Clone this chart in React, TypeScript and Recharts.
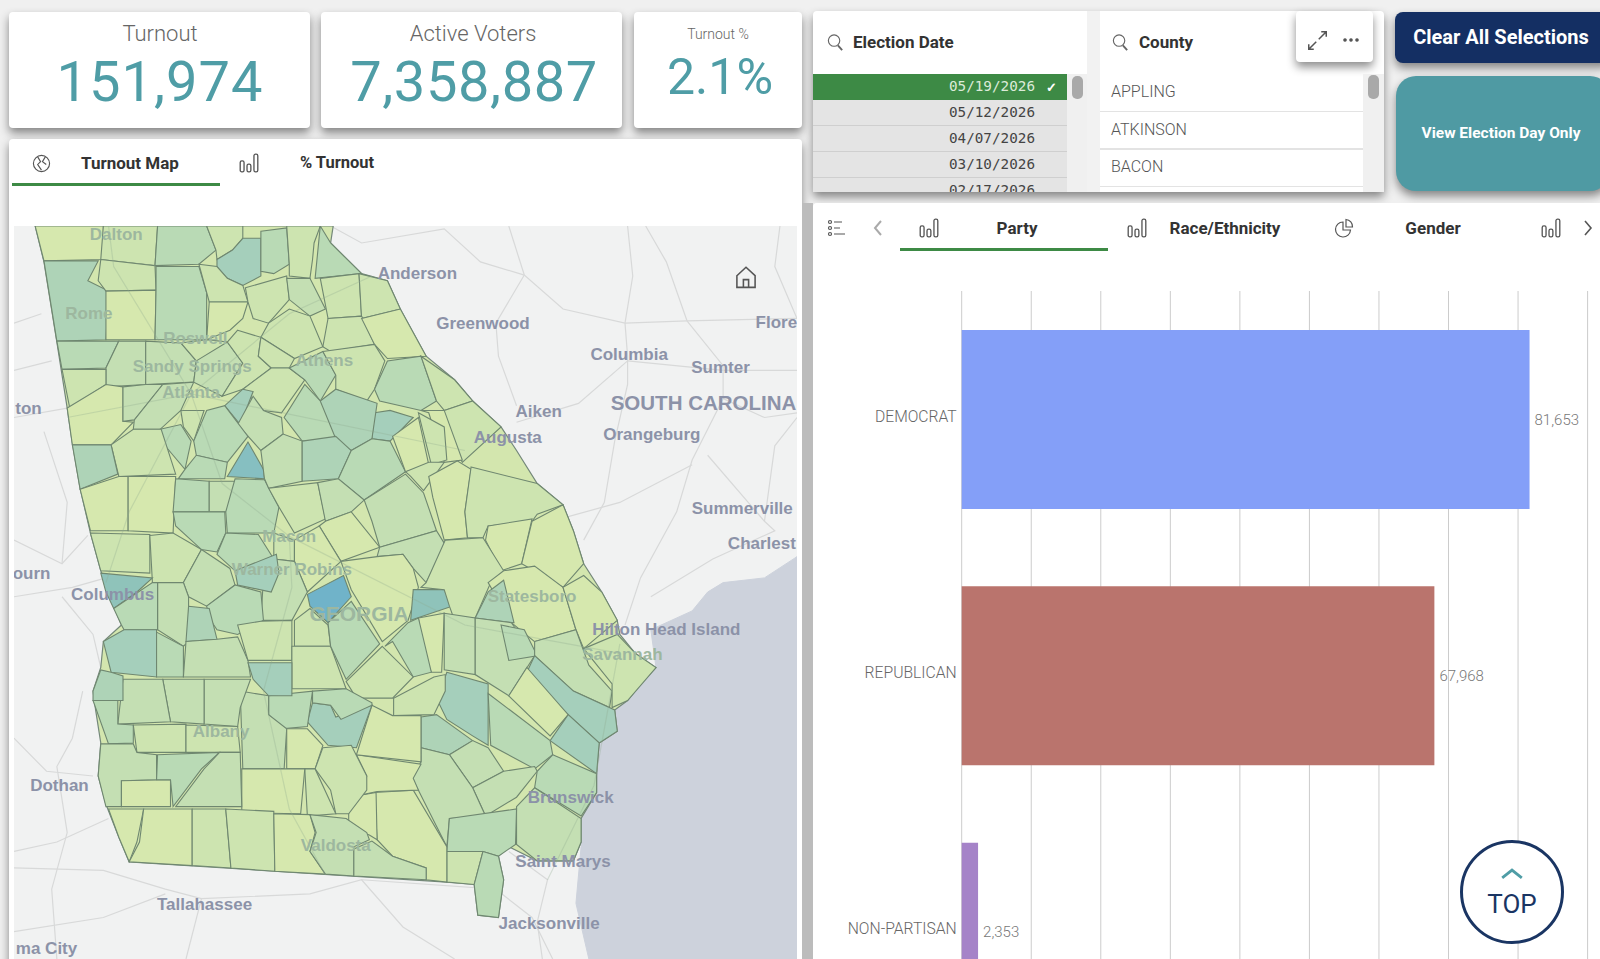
import React from 'react';
import {
  BarChart,
  Bar,
  Cell,
  XAxis,
  YAxis,
  ZAxis,
  CartesianGrid,
  LabelList,
  Scatter,
  ScatterChart,
} from 'recharts';

type Pt = [number, number];

// party bars
const parties = ['DEMOCRAT', 'REPUBLICAN', 'NON-PARTISAN'];
const partyTurnout = [81653, 67968, 2353];
const partyColors = ['#849ff8', '#ba746d', '#a583c8'];
const turnoutTicks = [0, 10000, 20000, 30000, 40000, 50000, 60000, 70000, 80000, 90000];

// lists in the filter panes
const electionDates = ['05/19/2026', '05/12/2026', '04/07/2026', '03/10/2026', '02/17/2026'];
const countyNames = ['APPLING', 'ATKINSON', 'BACON'];

// map, in the map's own x/y units
const ocean: Pt[] = [[1543, 715], [1480, 760], [1400, 770], [1370, 790], [1340, 830], [1260, 870], [1270, 950], [1240, 985], [1215, 1020], [1190, 1040], [1195, 1085], [1160, 1110], [1155, 1215], [1125, 1270], [1125, 1330], [1115, 1450], [1140, 1568], [1543, 1568]];
const stateOutline: Pt[] = [[68, 14], [645, 14], [640, 50], [700, 115], [750, 130], [775, 190], [825, 290], [880, 340], [915, 385], [970, 440], [1000, 490], [1040, 560], [1090, 605], [1110, 660], [1130, 730], [1165, 790], [1195, 850], [1200, 880], [1230, 920], [1270, 950], [1240, 985], [1215, 1020], [1190, 1040], [1195, 1085], [1160, 1110], [1155, 1175], [1155, 1215], [1125, 1270], [1125, 1320], [1110, 1360], [1040, 1360], [985, 1330], [965, 1350], [975, 1400], [965, 1480], [925, 1475], [918, 1410], [865, 1405], [250, 1362], [230, 1310], [205, 1240], [190, 1180], [195, 1110], [185, 1040], [180, 1000], [195, 950], [200, 895], [235, 860], [220, 820], [205, 770], [195, 745], [175, 665], [155, 570], [140, 475], [130, 400], [110, 260], [85, 90]];
const roads: Pt[][] = [
  [[640, 14], [700, 50], [860, 20], [930, 90], [1015, 118], [1090, 190], [1210, 220], [1330, 215], [1543, 210]],
  [[1015, 118], [985, 14]],
  [[1015, 118], [960, 220], [965, 290], [1000, 395]],
  [[1210, 220], [1215, 290], [1215, 350], [1190, 470], [1170, 600], [1130, 680]],
  [[1215, 14], [1225, 120], [1210, 220]],
  [[1330, 215], [1290, 90], [1250, 14]],
  [[1330, 215], [1400, 310], [1400, 380], [1340, 510], [1310, 620], [1240, 760], [1210, 860]],
  [[1215, 300], [1120, 390], [1000, 430]],
  [[1215, 300], [1400, 320], [1543, 320]],
  [[1400, 380], [1480, 420], [1543, 410]],
  [[1370, 500], [1480, 640], [1500, 660], [1380, 720], [1260, 800]],
  [[1100, 630], [1200, 600], [1340, 520]],
  [[1480, 640], [1500, 480], [1543, 420]],
  [[1510, 14], [1500, 100], [1543, 210]],
  [[27, 220], [80, 200]],
  [[27, 320], [100, 300]],
  [[27, 420], [130, 400]],
  [[27, 680], [120, 730], [170, 670]],
  [[120, 730], [130, 600], [85, 450]],
  [[27, 800], [140, 780], [205, 760]],
  [[120, 800], [180, 880], [195, 950]],
  [[27, 1100], [90, 1170], [180, 1180]],
  [[160, 1000], [140, 1100], [110, 1160], [130, 1300], [100, 1420], [110, 1568]],
  [[27, 1340], [110, 1320], [210, 1270]],
  [[27, 1375], [200, 1380], [320, 1420], [390, 1440], [600, 1430], [700, 1400], [780, 1500], [880, 1568]],
  [[390, 1440], [360, 1568]],
  [[27, 1510], [200, 1480], [320, 1430]],
  [[700, 1400], [960, 1420], [1030, 1480], [1070, 1568]],
  [[1050, 1568], [1040, 1490], [1060, 1400], [985, 1340]],
];
// interstates that show faintly through the counties
const stateRoads: Pt[][] = [
  [[370, 370], [430, 560], [560, 672], [565, 780], [510, 1000], [560, 1250], [630, 1390]],
  [[370, 370], [560, 200], [720, 120]],
  [[370, 370], [250, 620], [205, 770]],
  [[130, 420], [370, 370], [900, 490]],
  [[560, 672], [900, 860], [1200, 920]],
  [[1200, 900], [1150, 1200], [1060, 1400]],
  [[370, 370], [220, 100], [210, 14]],
];
const countyFills = ['#d6e8ae', '#cde4b0', '#c4dfb3', '#b9dab5', '#aed3b7', '#a5cfbb', '#8fc3ba', '#86bfc1', '#70b3c9'];
// [shade index, outline]
const counties: [number, Pt[]][] = [
  [0, [[68, 14], [200, 14], [200, 85], [85, 88]]],
  [1, [[200, 14], [305, 14], [300, 98], [195, 85]]],
  [3, [[305, 14], [400, 14], [418, 65], [385, 95], [300, 98]]],
  [1, [[400, 14], [470, 14], [470, 40], [450, 65], [420, 85], [418, 65]]],
  [5, [[420, 85], [450, 65], [470, 40], [505, 40], [505, 120], [470, 140], [440, 125], [420, 100]]],
  [3, [[505, 25], [555, 18], [560, 95], [530, 115], [505, 110]]],
  [1, [[555, 14], [620, 14], [608, 50], [605, 85], [600, 125], [560, 120], [560, 95]]],
  [3, [[620, 14], [640, 50], [700, 115], [610, 125]]],
  [4, [[85, 88], [190, 88], [170, 130], [210, 152], [205, 255], [110, 258]]],
  [1, [[195, 85], [300, 98], [302, 150], [205, 152], [190, 130]]],
  [0, [[205, 152], [302, 150], [300, 255], [205, 255]]],
  [3, [[302, 100], [385, 100], [400, 155], [400, 255], [300, 255], [302, 150]]],
  [1, [[385, 95], [420, 100], [440, 125], [470, 140], [480, 175], [405, 175], [400, 155]]],
  [0, [[405, 175], [480, 175], [470, 210], [445, 235], [400, 255]]],
  [1, [[475, 145], [555, 120], [560, 170], [520, 220], [490, 210], [480, 175]]],
  [2, [[555, 125], [600, 125], [630, 190], [600, 205], [560, 170]]],
  [1, [[620, 125], [695, 115], [700, 205], [635, 210]]],
  [1, [[695, 115], [750, 130], [775, 190], [700, 210]]],
  [1, [[635, 210], [700, 205], [725, 265], [640, 280], [625, 270]]],
  [0, [[700, 210], [775, 190], [825, 290], [750, 295], [725, 265]]],
  [1, [[520, 220], [560, 190], [600, 205], [625, 270], [570, 295], [505, 250]]],
  [3, [[110, 258], [230, 258], [205, 315], [120, 318]]],
  [2, [[230, 258], [282, 258], [282, 350], [205, 355], [205, 315]]],
  [2, [[282, 258], [350, 262], [380, 300], [375, 345], [282, 350]]],
  [1, [[350, 262], [400, 255], [440, 260], [435, 290], [380, 300]]],
  [1, [[120, 318], [205, 318], [205, 350], [135, 400]]],
  [0, [[130, 400], [205, 350], [238, 355], [238, 428], [258, 430], [215, 478], [140, 478]]],
  [2, [[238, 355], [282, 350], [315, 350], [260, 425], [238, 428]]],
  [2, [[315, 350], [375, 345], [350, 405], [310, 445], [258, 445], [260, 425]]],
  [2, [[380, 300], [440, 260], [470, 305], [430, 375], [375, 345]]],
  [1, [[460, 235], [505, 250], [500, 290], [525, 315], [470, 360], [430, 375], [470, 305], [440, 260]]],
  [1, [[505, 250], [570, 295], [560, 315], [525, 315], [500, 290]]],
  [1, [[525, 315], [560, 315], [590, 340], [545, 410], [510, 405], [470, 360]]],
  [3, [[560, 315], [625, 280], [650, 330], [620, 385], [590, 340]]],
  [1, [[625, 280], [725, 265], [745, 300], [725, 360], [710, 385], [650, 360], [650, 330]]],
  [3, [[725, 360], [750, 300], [815, 290], [845, 385], [815, 405], [735, 385]]],
  [1, [[815, 290], [880, 340], [915, 385], [860, 405], [845, 385]]],
  [1, [[860, 405], [915, 385], [970, 440], [895, 515], [860, 440]]],
  [0, [[815, 405], [860, 405], [895, 510], [860, 515], [830, 410]]],
  [5, [[725, 410], [755, 405], [800, 420], [755, 470], [720, 465]]],
  [4, [[620, 385], [650, 360], [730, 390], [720, 465], [680, 490], [630, 460]]],
  [3, [[590, 350], [620, 385], [650, 465], [585, 470], [550, 420]]],
  [5, [[470, 360], [490, 365], [465, 435], [435, 395]]],
  [2, [[490, 375], [510, 405], [545, 420], [548, 455], [505, 490], [460, 435]]],
  [1, [[350, 405], [395, 405], [375, 470], [355, 440]]],
  [3, [[310, 445], [350, 435], [370, 470], [358, 530], [335, 500], [312, 470]]],
  [3, [[375, 470], [400, 405], [435, 395], [480, 460], [440, 515], [380, 500]]],
  [1, [[215, 478], [258, 445], [312, 445], [340, 540], [230, 545]]],
  [4, [[140, 478], [215, 478], [228, 540], [155, 572]]],
  [0, [[155, 572], [230, 545], [248, 545], [248, 660], [175, 660]]],
  [0, [[248, 545], [340, 545], [335, 665], [248, 660]]],
  [3, [[358, 530], [380, 500], [440, 515], [435, 550], [345, 550]]],
  [7, [[440, 545], [480, 472], [510, 530], [512, 550]]],
  [3, [[340, 550], [405, 555], [405, 620], [335, 620]]],
  [2, [[405, 555], [455, 555], [455, 620], [405, 620]]],
  [3, [[455, 550], [512, 552], [540, 610], [530, 665], [440, 665], [437, 620]]],
  [2, [[505, 490], [548, 455], [585, 470], [585, 555], [520, 570], [512, 550]]],
  [4, [[585, 470], [650, 460], [680, 490], [655, 550], [585, 555]]],
  [3, [[680, 490], [720, 465], [755, 470], [785, 535], [705, 595], [655, 550]]],
  [0, [[760, 460], [810, 420], [830, 520], [785, 535]]],
  [1, [[810, 410], [860, 440], [865, 510], [835, 520]]],
  [1, [[785, 535], [830, 515], [860, 515], [820, 575], [795, 545]]],
  [0, [[830, 545], [885, 512], [912, 530], [900, 620], [905, 675], [860, 680], [838, 590]]],
  [1, [[912, 525], [1040, 560], [1090, 605], [1040, 625], [1030, 640], [945, 650], [935, 675], [905, 675], [900, 620]]],
  [0, [[945, 650], [1030, 635], [1010, 730], [970, 745], [940, 680]]],
  [0, [[1030, 640], [1090, 605], [1110, 660], [1130, 730], [1090, 780], [1010, 730]]],
  [2, [[705, 595], [785, 540], [820, 580], [845, 660], [735, 695], [720, 640]]],
  [1, [[520, 570], [615, 558], [630, 635], [570, 665], [540, 610]]],
  [2, [[615, 558], [655, 550], [705, 595], [680, 620], [630, 640]]],
  [0, [[630, 640], [680, 620], [735, 695], [660, 725], [618, 650]]],
  [2, [[735, 695], [845, 660], [862, 690], [825, 770], [800, 740], [780, 710], [730, 715]]],
  [1, [[175, 665], [290, 668], [290, 750], [195, 745]]],
  [1, [[290, 670], [335, 665], [390, 700], [355, 770], [295, 770]]],
  [3, [[335, 620], [435, 620], [437, 665], [420, 705], [390, 700], [340, 650]]],
  [3, [[437, 665], [500, 668], [530, 720], [510, 760], [455, 745], [420, 710]]],
  [1, [[530, 665], [570, 680], [570, 725], [530, 720]]],
  [0, [[570, 680], [618, 650], [660, 725], [595, 790], [570, 725]]],
  [0, [[660, 725], [730, 715], [780, 710], [800, 740], [810, 780], [790, 850], [740, 895], [680, 785]]],
  [2, [[510, 760], [530, 720], [570, 725], [595, 790], [565, 850], [505, 850]]],
  [5, [[455, 745], [535, 710], [540, 750], [525, 790], [460, 775]]],
  [2, [[390, 700], [445, 740], [455, 775], [400, 820], [365, 800], [355, 770]]],
  [3, [[400, 820], [455, 775], [505, 790], [510, 850], [460, 880], [420, 870], [405, 845]]],
  [2, [[305, 770], [355, 770], [365, 800], [365, 895], [355, 905], [305, 870]]],
  [4, [[365, 820], [405, 825], [420, 890], [360, 895]]],
  [6, [[195, 750], [295, 760], [265, 790], [220, 825], [205, 790]]],
  [3, [[220, 825], [295, 770], [305, 770], [305, 870], [240, 870], [235, 860]]],
  [5, [[200, 895], [240, 870], [303, 870], [303, 970], [215, 960]]],
  [3, [[303, 875], [355, 905], [355, 970], [303, 970]]],
  [2, [[360, 895], [420, 890], [460, 885], [480, 935], [485, 970], [355, 970]]],
  [1, [[460, 860], [505, 852], [565, 850], [565, 935], [480, 935]]],
  [1, [[570, 850], [600, 825], [635, 860], [640, 905], [570, 905]]],
  [1, [[565, 905], [640, 905], [670, 995], [565, 995]]],
  [3, [[635, 855], [680, 810], [735, 900], [670, 975], [640, 905]]],
  [8, [[595, 795], [665, 755], [680, 800], [635, 855], [600, 820]]],
  [6, [[800, 785], [860, 785], [875, 820], [795, 850]]],
  [1, [[825, 770], [862, 680], [935, 675], [975, 745], [950, 770], [920, 845], [880, 850], [870, 820], [860, 785], [815, 780]]],
  [0, [[975, 745], [1035, 735], [1090, 780], [1115, 870], [1035, 895], [990, 855], [945, 770]]],
  [4, [[945, 790], [975, 765], [995, 855], [920, 845]]],
  [0, [[1090, 780], [1130, 755], [1165, 790], [1195, 850], [1130, 910], [1115, 870]]],
  [0, [[810, 845], [860, 835], [855, 960], [835, 960], [820, 920]]],
  [2, [[860, 835], [920, 845], [920, 965], [860, 955]]],
  [2, [[920, 845], [990, 855], [1035, 925], [985, 1010], [920, 965]]],
  [3, [[745, 905], [790, 855], [810, 845], [835, 960], [800, 970], [760, 895]]],
  [1, [[740, 905], [800, 970], [760, 1015], [690, 1015], [670, 980]]],
  [3, [[970, 860], [1015, 870], [1040, 925], [985, 935]]],
  [2, [[1035, 925], [1110, 1000], [1180, 1035], [1185, 1000], [1140, 945], [1115, 870], [1035, 895]]],
  [1, [[1130, 910], [1195, 880], [1230, 920], [1270, 950], [1215, 1020], [1185, 1035], [1185, 985]]],
  [5, [[1035, 925], [1110, 1000], [1190, 1040], [1195, 1085], [1160, 1110], [1100, 1050], [1020, 960]]],
  [0, [[1020, 950], [1100, 1050], [1065, 1095], [985, 1010]]],
  [5, [[1100, 1050], [1160, 1110], [1155, 1175], [1065, 1105]]],
  [5, [[865, 960], [945, 985], [945, 1115], [915, 1095], [865, 1060], [845, 1015], [862, 970]]],
  [3, [[945, 1005], [1065, 1105], [1070, 1135], [1035, 1165], [950, 1115]]],
  [4, [[815, 1055], [845, 1050], [915, 1105], [870, 1135], [815, 1120]]],
  [1, [[762, 1015], [840, 970], [862, 965], [862, 1000], [840, 1050], [762, 1052]]],
  [2, [[870, 1135], [915, 1105], [945, 1120], [975, 1170], [915, 1205]]],
  [2, [[975, 1170], [1035, 1160], [1040, 1170], [1000, 1225], [940, 1265], [915, 1205]]],
  [3, [[1070, 1135], [1155, 1175], [1155, 1215], [1125, 1265], [1035, 1205], [1040, 1170]]],
  [2, [[1000, 1245], [1035, 1205], [1125, 1270], [1125, 1320], [1110, 1360], [1040, 1360], [1000, 1325]]],
  [2, [[815, 1120], [870, 1135], [915, 1205], [940, 1265], [870, 1270], [865, 1330], [810, 1210], [798, 1185], [815, 1150]]],
  [3, [[870, 1270], [1000, 1250], [998, 1325], [965, 1350], [935, 1340], [865, 1340]]],
  [1, [[865, 1340], [935, 1340], [918, 1410], [865, 1405]]],
  [3, [[935, 1340], [965, 1350], [975, 1400], [965, 1480], [925, 1475], [918, 1410]]],
  [0, [[725, 1215], [800, 1210], [865, 1330], [865, 1405], [825, 1400], [825, 1375], [760, 1350], [730, 1315]]],
  [0, [[675, 1255], [700, 1220], [728, 1215], [730, 1315], [715, 1305], [675, 1290]]],
  [0, [[690, 1135], [815, 1155], [800, 1185], [810, 1210], [730, 1213], [700, 1220], [710, 1180]]],
  [0, [[690, 1135], [720, 1030], [760, 1052], [815, 1052], [815, 1150]]],
  [5, [[595, 1065], [605, 1025], [640, 1030], [650, 1055], [720, 1030], [690, 1120], [635, 1115]]],
  [3, [[605, 1000], [670, 995], [720, 1025], [720, 1030], [660, 1060], [640, 1030], [605, 1025]]],
  [3, [[520, 1010], [605, 1000], [595, 1075], [545, 1080], [520, 1050]]],
  [5, [[480, 940], [565, 940], [565, 1010], [520, 1010], [490, 975]]],
  [2, [[465, 1000], [520, 1010], [520, 1050], [555, 1080], [550, 1165], [470, 1165]]],
  [0, [[555, 1080], [595, 1080], [625, 1115], [610, 1165], [555, 1165]]],
  [1, [[625, 1120], [680, 1115], [710, 1180], [710, 1210], [675, 1260], [650, 1260], [640, 1210], [610, 1165]]],
  [1, [[590, 1165], [610, 1165], [650, 1260], [595, 1265]]],
  [0, [[468, 1165], [590, 1165], [582, 1260], [468, 1258]]],
  [2, [[395, 975], [485, 975], [465, 1035], [460, 1075], [395, 1070]]],
  [2, [[315, 975], [395, 975], [395, 1070], [330, 1065]]],
  [2, [[238, 975], [315, 975], [330, 1065], [228, 1070]]],
  [4, [[215, 960], [238, 968], [238, 1020], [180, 1020], [180, 1000], [195, 955]]],
  [3, [[180, 1020], [228, 1020], [228, 1070], [258, 1072], [258, 1110], [210, 1112]]],
  [1, [[258, 1072], [360, 1070], [360, 1130], [265, 1130]]],
  [1, [[360, 1072], [460, 1075], [465, 1130], [360, 1130]]],
  [2, [[195, 1112], [258, 1112], [265, 1130], [303, 1135], [303, 1188], [235, 1190], [235, 1245], [205, 1245], [190, 1180]]],
  [0, [[235, 1190], [330, 1188], [330, 1245], [235, 1245]]],
  [3, [[305, 1135], [425, 1130], [390, 1165], [335, 1245], [330, 1188], [303, 1188]]],
  [2, [[425, 1130], [465, 1130], [468, 1245], [340, 1245], [395, 1165]]],
  [0, [[210, 1250], [278, 1250], [265, 1320], [250, 1362], [230, 1310]]],
  [0, [[278, 1250], [372, 1250], [372, 1370], [250, 1362], [270, 1320]]],
  [1, [[372, 1250], [437, 1250], [447, 1375], [372, 1370]]],
  [1, [[437, 1250], [530, 1255], [532, 1382], [447, 1375]]],
  [0, [[530, 1260], [600, 1262], [610, 1300], [600, 1340], [630, 1388], [532, 1382]]],
  [2, [[600, 1262], [670, 1270], [710, 1300], [715, 1315], [685, 1330], [685, 1392], [630, 1388], [600, 1340], [612, 1300]]],
  [2, [[685, 1335], [720, 1318], [760, 1350], [825, 1375], [825, 1400], [685, 1392]]],
];
const citiesOutside = [
  { x: 808, y: 115, name: 'Anderson' }, { x: 935, y: 220, name: 'Greenwood' }, { x: 1503, y: 218, name: 'Flore' },
  { x: 1218, y: 287, name: 'Columbia' }, { x: 1395, y: 314, name: 'Sumter' }, { x: 1043, y: 408, name: 'Aiken' },
  { x: 55, y: 400, name: 'ton' }, { x: 1262, y: 455, name: 'Orangeburg' }, { x: 1437, y: 613, name: 'Summerville' },
  { x: 1475, y: 688, name: 'Charlest' }, { x: 61, y: 750, name: 'ourn' }, { x: 218, y: 795, name: 'Columbus' },
  { x: 1290, y: 870, name: 'Hilton Head Island' }, { x: 115, y: 1200, name: 'Dothan' }, { x: 1105, y: 1225, name: 'Brunswick' },
  { x: 1090, y: 1362, name: 'Saint Marys' }, { x: 396, y: 1453, name: 'Tallahassee' }, { x: 1063, y: 1492, name: 'Jacksonville' },
  { x: 90, y: 1545, name: 'ma City' }, { x: 983, y: 462, name: 'Augusta' },
];
const citiesInside = [
  { x: 225, y: 32, name: 'Dalton' }, { x: 172, y: 200, name: 'Rome' }, { x: 378, y: 252, name: 'Roswell' },
  { x: 372, y: 311, name: 'Sandy Springs' }, { x: 370, y: 368, name: 'Atlanta' }, { x: 628, y: 300, name: 'Athens' },
  { x: 560, y: 672, name: 'Macon' }, { x: 565, y: 742, name: 'Warner Robins' }, { x: 1030, y: 800, name: 'Statesboro' },
  { x: 1205, y: 922, name: 'Savannah' }, { x: 428, y: 1085, name: 'Albany' }, { x: 650, y: 1327, name: 'Valdosta' },
];
const regionOutside = [{ x: 1362, y: 388, name: 'SOUTH CAROLINA' }];
const regionInside = [{ x: 695, y: 835, name: 'GEORGIA' }];

const FONT = 'Roboto, sans-serif';
const GREEN = '#3d8a45';

const toPoints = (pts: Pt[]) => pts.map(([x, y]) => ({ x, y }));
const noMark = () => <g />;

// draws the point's name at its scaled position
const placeName = (fill: string, fontSize: number) => (p: any) => (
  <text
    x={p.cx}
    y={p.cy}
    textAnchor="middle"
    dominantBaseline="central"
    fill={fill}
    fontSize={fontSize}
    fontWeight={700}
    fontFamily="Liberation Sans"
  >
    {p.payload.name}
  </text>
);

const Txt: React.FC<{
  x: number;
  y: number;
  size: number;
  color?: string;
  weight?: number;
  align?: 'left' | 'center' | 'right';
  family?: string;
  spacing?: number;
  children: React.ReactNode;
}> = ({ x, y, size, color = '#444', weight = 400, align = 'center', family = FONT, spacing, children }) => {
  const tx = align === 'left' ? '0' : align === 'right' ? '-100%' : '-50%';
  return (
    <div
      style={{
        position: 'absolute',
        left: x,
        top: y,
        transform: `translate(${tx}, -50%)`,
        fontFamily: family,
        fontSize: size,
        fontWeight: weight,
        letterSpacing: spacing,
        color,
        whiteSpace: 'nowrap',
        lineHeight: 1,
      }}
    >
      {children}
    </div>
  );
};

const Box: React.FC<{
  x: number;
  y: number;
  w: number;
  h: number;
  bg?: string;
  r?: number;
  shadow?: boolean;
}> = ({ x, y, w, h, bg = '#fff', r = 4, shadow = false }) => (
  <div
    style={{
      position: 'absolute',
      left: x,
      top: y,
      width: w,
      height: h,
      background: bg,
      borderRadius: r,
      boxShadow: shadow ? '0 5px 10px rgba(0,0,0,0.45)' : undefined,
    }}
  />
);

const Icon: React.FC<{ x: number; y: number; size?: number; color?: string; children: React.ReactNode }> = ({
  x,
  y,
  size = 20,
  color = '#555',
  children,
}) => (
  <svg
    viewBox="0 0 20 20"
    width={size}
    height={size}
    fill="none"
    stroke={color}
    strokeWidth={1.2}
    style={{ position: 'absolute', left: x - size / 2, top: y - size / 2 }}
  >
    {children}
  </svg>
);

const BarsIcon = ({ x, y }: { x: number; y: number }) => (
  <Icon x={x} y={y} size={22}>
    <rect x="2" y="8" width="3.5" height="10" rx="1.5" />
    <rect x="8.2" y="11" width="3.5" height="7" rx="1.5" />
    <rect x="14.5" y="2" width="3.5" height="16" rx="1.5" />
  </Icon>
);

const SearchIcon = ({ x, y }: { x: number; y: number }) => (
  <Icon x={x} y={y} size={19} color="#666">
    <circle cx="8.5" cy="8" r="6" />
    <path d="M12.5 13 L17 18" strokeWidth={2} />
  </Icon>
);

const GeorgiaMap = () => (
  <div style={{ position: 'absolute', left: 14, top: 226, width: 783, height: 733, background: '#f1f2f2' }}>
    <ScatterChart width={783} height={733} margin={{ top: 0, right: 0, bottom: 0, left: 0 }}>
      <XAxis type="number" dataKey="x" domain={[27, 1543]} hide allowDataOverflow />
      <YAxis type="number" dataKey="y" domain={[14, 1568]} reversed hide allowDataOverflow />
      <ZAxis range={[1, 1]} />
      {roads.map((road, i) => (
        <Scatter
          key={`road-${i}`}
          data={toPoints(road)}
          shape={noMark}
          line={{ stroke: '#d8d9d9', strokeWidth: 1.2 }}
          isAnimationActive={false}
        />
      ))}
      <Scatter
        data={toPoints(ocean)}
        shape={noMark}
        fill="#cdd2dc"
        line={{ stroke: '#cdd2dc', fill: '#cdd2dc' }}
        lineJointType="linearClosed"
        isAnimationActive={false}
      />
      <Scatter
        data={toPoints(stateOutline)}
        shape={noMark}
        fill="#d3e6ae"
        line={{ stroke: '#74887a', fill: '#d3e6ae', strokeWidth: 1.2 }}
        lineJointType="linearClosed"
        isAnimationActive={false}
      />
      {counties.map(([shade, outline], i) => (
        <Scatter
          key={`county-${i}`}
          data={toPoints(outline)}
          shape={noMark}
          fill={countyFills[shade]}
          line={{ stroke: '#6f8770', fill: countyFills[shade], strokeWidth: 1.1 }}
          lineJointType="linearClosed"
          isAnimationActive={false}
        />
      ))}
      {stateRoads.map((road, i) => (
        <Scatter
          key={`state-road-${i}`}
          data={toPoints(road)}
          shape={noMark}
          line={{ stroke: '#8fa88f', strokeOpacity: 0.3, strokeWidth: 1.2 }}
          isAnimationActive={false}
        />
      ))}
      <Scatter data={citiesOutside} shape={placeName('#8c92a8', 17)} isAnimationActive={false} />
      <Scatter data={citiesInside} shape={placeName('#9db79f', 17)} isAnimationActive={false} />
      <Scatter data={regionOutside} shape={placeName('#8c92a8', 20.5)} isAnimationActive={false} />
      <Scatter data={regionInside} shape={placeName('#9db79f', 21)} isAnimationActive={false} />
    </ScatterChart>
  </div>
);

const PartyChart = () => {
  const data = parties.map((party, i) => ({ party, turnout: partyTurnout[i] }));
  return (
    <div style={{ position: 'absolute', left: 813, top: 280 }}>
      <BarChart
        width={787}
        height={790}
        data={data}
        layout="vertical"
        margin={{ top: 11, right: 12.4, bottom: 10, left: 0 }}
      >
        <CartesianGrid horizontal={false} stroke="#cccccc" />
        <XAxis
          type="number"
          domain={[0, 90000]}
          ticks={turnoutTicks}
          interval={0}
          tick={noMark}
          axisLine={false}
          tickLine={false}
          height={0}
        />
        <YAxis
          type="category"
          dataKey="party"
          width={148.7}
          axisLine={false}
          tickLine={false}
          tickMargin={0}
          tick={{ fill: '#666666', fontSize: 15.7, fontFamily: FONT, fontWeight: 300, dy: -3, dx: 1 }}
        />
        <Bar dataKey="turnout" barSize={179} isAnimationActive={false}>
          {parties.map((party, i) => (
            <Cell key={party} fill={partyColors[i]} />
          ))}
          <LabelList
            dataKey="turnout"
            position="right"
            fill="#777777"
            fontSize={15}
            fontWeight={300}
            fontFamily={FONT}
            formatter={(v: number) => v.toLocaleString('en-US')}
          />
        </Bar>
      </BarChart>
    </div>
  );
};

export default function App() {
  return (
    <div style={{ position: 'absolute', left: 0, top: 0, width: 1600, height: 959, overflow: 'hidden', background: '#f0f0f0' }}>
      {/* KPI cards */}
      <Box x={9} y={12} w={301} h={116} shadow />
      <Txt x={160} y={34} size={22} color="#666" weight={300}>Turnout</Txt>
      <Txt x={160} y={82} size={56} color="#4f9da6" spacing={1}>151,974</Txt>
      <Box x={321} y={12} w={301} h={116} shadow />
      <Txt x={473} y={34} size={22} color="#666" weight={300}>Active Voters</Txt>
      <Txt x={474} y={82} size={56} color="#4f9da6" spacing={0.6}>7,358,887</Txt>
      <Box x={634} y={12} w={168} h={116} shadow />
      <Txt x={718} y={34} size={14} color="#666" weight={300}>Turnout %</Txt>
      <Txt x={720} y={77} size={50} color="#4f9da6">2.1%</Txt>

      {/* map panel */}
      <Box x={9} y={139} w={793} h={840} shadow />
      <Icon x={41} y={163} size={19}>
        <circle cx="10" cy="10" r="8.5" />
        <path d="M6 3 L9 8 L6 11 L10 17 M14 3 L11 8 L15 11" />
      </Icon>
      <Txt x={81} y={163} size={17} color="#333" weight={700} align="left">Turnout Map</Txt>
      <div style={{ position: 'absolute', left: 12, top: 183, width: 208, height: 3, background: GREEN }} />
      <BarsIcon x={249} y={163} />
      <Txt x={300} y={163} size={16.5} color="#333" weight={700} align="left">% Turnout</Txt>
      <GeorgiaMap />
      <Icon x={746} y={277} size={26} color="#555">
        <path d="M3 9 L10 2.5 L17 9 V18 H3 Z M8 18 V12 H12 V18" />
      </Icon>

      {/* filter panes */}
      <Box x={813} y={11} w={571} h={181} shadow />
      <div style={{ position: 'absolute', left: 1087, top: 11, width: 13, height: 181, background: '#f2f2f2' }} />
      <SearchIcon x={835} y={42} />
      <Txt x={853} y={42} size={17} color="#333" weight={700} align="left">Election Date</Txt>
      <SearchIcon x={1120} y={42} />
      <Txt x={1139} y={42} size={17} color="#333" weight={700} align="left">County</Txt>
      <Box x={1296} y={11} w={77} h={51} shadow />
      <Icon x={1317} y={40} size={25} color="#555">
        <path d="M11 9 L17 3 M13 3 H17 V7 M9 11 L3 17 M3 13 V17 H7" />
      </Icon>
      <Icon x={1351} y={40} size={20} color="#555">
        <circle cx="4" cy="10" r="1.2" fill="#555" />
        <circle cx="10" cy="10" r="1.2" fill="#555" />
        <circle cx="16" cy="10" r="1.2" fill="#555" />
      </Icon>
      <div style={{ position: 'absolute', left: 813, top: 74, width: 254, height: 118, overflow: 'hidden' }}>
        {electionDates.map((date, i) => (
          <div
            key={date}
            style={{
              position: 'absolute',
              left: 0,
              top: i * 26,
              width: 254,
              height: 26,
              boxSizing: 'border-box',
              background: i === 0 ? GREEN : '#e4e4e4',
              borderBottom: i === 0 ? undefined : '1.5px solid #cfcfcf',
              color: i === 0 ? '#dcebd9' : '#444',
              fontFamily: 'DejaVu Sans Mono',
              fontSize: 14.3,
              lineHeight: '24px',
              textAlign: 'right',
              paddingRight: 32,
            }}
          >
            {date}
          </div>
        ))}
      </div>
      <Txt x={1051} y={87} size={13} color="#fff" weight={700}>✓</Txt>
      <div style={{ position: 'absolute', left: 1067, top: 74, width: 20, height: 118, background: '#f0f0f0' }} />
      <Box x={1072} y={76} w={11} h={23} bg="#a9a9a9" r={5} />
      {countyNames.map((county, i) => (
        <React.Fragment key={county}>
          <Txt x={1111} y={92 + i * 37.5} size={16} color="#555" weight={300} align="left">{county}</Txt>
          <div style={{ position: 'absolute', left: 1100, top: 110.5 + i * 37.5, width: 263, height: 1.5, background: '#e3e3e3' }} />
        </React.Fragment>
      ))}
      <div style={{ position: 'absolute', left: 1363, top: 74, width: 21, height: 118, background: '#f0f0f0' }} />
      <Box x={1368} y={75} w={11} h={24} bg="#a9a9a9" r={5} />

      {/* buttons */}
      <Box x={1395} y={12} w={215} h={51} bg="#142f63" r={8} shadow />
      <Txt x={1501} y={37} size={20} color="#fff" weight={700}>Clear All Selections</Txt>
      <Box x={1396} y={76} w={214} h={115} bg="#4f9aa3" r={20} shadow />
      <Txt x={1501} y={134} size={15.5} color="#fff" weight={700}>View Election Day Only</Txt>

      {/* demographics panel */}
      <Box x={802} y={203} w={11} h={760} bg="#bcbcbc" r={0} />
      <Box x={813} y={203} w={800} h={770} />
      <Icon x={837} y={228} size={20}>
        <circle cx="3" cy="4" r="1.5" />
        <circle cx="3" cy="10" r="1.5" />
        <circle cx="3" cy="16" r="1.5" />
        <path d="M7 4 H15 M7 10 H13 M7 16 H18" />
      </Icon>
      <Icon x={879} y={228} size={20} color="#aaa">
        <path d="M12 3 L6 10 L12 17" strokeWidth={2} />
      </Icon>
      <BarsIcon x={929} y={228} />
      <Txt x={1017} y={228} size={17} color="#333" weight={700}>Party</Txt>
      <div style={{ position: 'absolute', left: 900, top: 248, width: 208, height: 3, background: GREEN }} />
      <BarsIcon x={1137} y={228} />
      <Txt x={1225} y={228} size={17} color="#333" weight={700}>Race/Ethnicity</Txt>
      <Icon x={1344} y={228} size={20}>
        <path d="M9 4 A7.5 7.5 0 1 0 16.5 12 H9 Z M12 1.5 A7 7 0 0 1 18.5 9 H12 Z" />
      </Icon>
      <Txt x={1433} y={228} size={17} color="#333" weight={700}>Gender</Txt>
      <BarsIcon x={1551} y={228} />
      <Icon x={1587} y={228} size={20}>
        <path d="M8 3 L14 10 L8 17" strokeWidth={1.6} />
      </Icon>
      <PartyChart />

      {/* back to top */}
      <div
        style={{
          position: 'absolute',
          left: 1460,
          top: 840,
          width: 104,
          height: 104,
          boxSizing: 'border-box',
          borderRadius: '50%',
          border: '3px solid #1a3563',
          background: '#fff',
        }}
      />
      <Icon x={1512} y={875} size={28} color="#4f9da6">
        <path d="M3 12 L10 6.5 L17 12" strokeWidth={2} />
      </Icon>
      <Txt x={1512} y={904} size={26} color="#1a3563">TOP</Txt>
    </div>
  );
}
